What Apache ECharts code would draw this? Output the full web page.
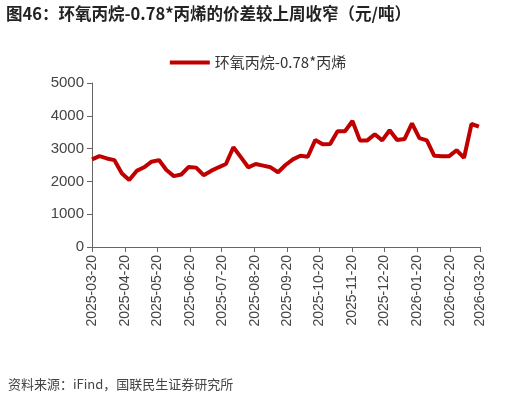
<!DOCTYPE html><html><head><meta charset="utf-8"><script src="https://cdn.jsdelivr.net/npm/echarts@6/dist/echarts.min.js"></script>
<style>body{margin:0}#c{width:516px;height:401px}</style></head><body><div id="c"></div><script>
const seriesName='环氧丙烷-0.78*丙烯';
const values=[2670,2770,2700,2650,2250,2040,2320,2430,2600,2650,2350,2160,2210,2440,2420,2190,2320,2430,2530,3040,2740,2430,2530,2480,2430,2280,2500,
2670,2780,2750,3260,3130,3140,3530,3530,3840,3250,3250,3440,3250,3560,3260,3290,3770,3320,3250,2780,2770,2770,2950,2720,3750,3670];
const tickLabels=['2025-03-20','2025-04-20','2025-05-20','2025-06-20','2025-07-20','2025-08-20','2025-09-20','2025-10-20','2025-11-20','2025-12-20','2026-01-20','2026-02-20','2026-03-20'];
const start=Date.UTC(2025,2,20),DAY=86400000;
const tickDays=tickLabels.map(s=>Math.round((Date.parse(s+'T00:00:00Z')-start)/DAY));
const data=values.map((v,i)=>[i*7,v]);
const ch=echarts.init(document.getElementById('c'));
ch.setOption({animation:false,
graphic:[{type:'text',left:6,top:5,style:{text:'图46：环氧丙烷-0.78*丙烯的价差较上周收窄（元/吨）',font:'bold 16.5px "Noto Sans CJK SC"',fill:'#222'}},
{type:'text',left:8,top:378,style:{text:'资料来源：iFind，国联民生证券研究所',font:'13px "Noto Sans CJK SC"',fill:'#444'}}],
legend:{top:50,left:'center',itemWidth:40,itemHeight:4,textStyle:{fontSize:15,color:'#333',fontFamily:'Noto Sans CJK SC'},data:[{name:seriesName,icon:'rect'}]},
grid:{left:92,right:36,top:83,bottom:154},
xAxis:{type:'value',min:0,max:365,splitLine:{show:false},
axisLine:{lineStyle:{color:'#666'}},
axisTick:{show:true,customValues:tickDays,lineStyle:{color:'#666'}},
axisLabel:{customValues:tickDays,rotate:90,fontSize:14,color:'#444',formatter:v=>tickLabels[tickDays.indexOf(v)]||''}},
yAxis:{type:'value',min:0,max:5000,interval:1000,splitLine:{show:false},
axisLine:{show:true,lineStyle:{color:'#666'}},axisTick:{show:true,lineStyle:{color:'#666'}},
axisLabel:{fontSize:15,color:'#444',formatter:v=>String(v)}},
series:[{name:seriesName,type:'line',data:data,showSymbol:false,lineStyle:{color:'#c00000',width:4},itemStyle:{color:'#c00000'}}]});
</script></body></html>
